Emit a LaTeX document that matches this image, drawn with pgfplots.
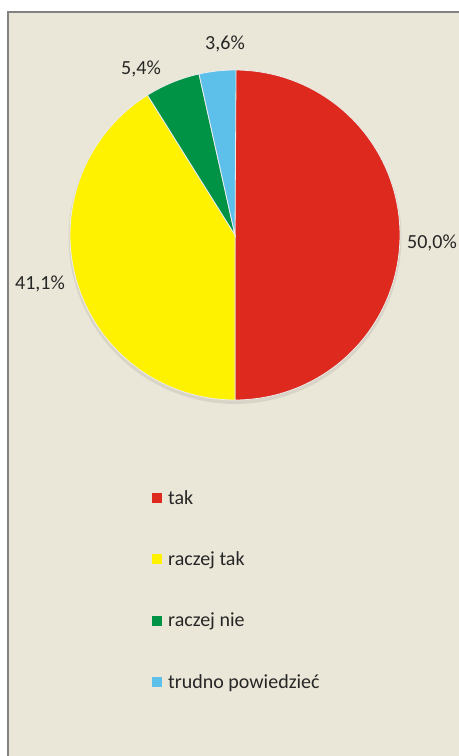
\documentclass[border=0pt]{standalone}
\usepackage{pgfplots}
\usepackage{pgfplotstable}
\pgfplotsset{compat=1.18}
\usepackage{fontspec}
\setmainfont{Carlito}

\definecolor{bgc}{RGB}{235,231,216}
\definecolor{frame}{RGB}{130,130,130}
\definecolor{cA}{RGB}{221,41,30}
\definecolor{cB}{RGB}{255,242,0}
\definecolor{cC}{RGB}{0,146,69}
\definecolor{cD}{RGB}{93,192,234}

\pgfplotstableread[col sep=comma]{
label,value
tak,50.0
raczej tak,41.1
raczej nie,5.4
trudno powiedzieć,3.6
}\piedata

\pgfplotstablegetelem{0}{value}\of\piedata \let\vA\pgfplotsretval
\pgfplotstablegetelem{1}{value}\of\piedata \let\vB\pgfplotsretval
\pgfplotstablegetelem{2}{value}\of\piedata \let\vC\pgfplotsretval
\pgfplotstablegetelem{3}{value}\of\piedata \let\vD\pgfplotsretval
\pgfplotstablegetelem{0}{label}\of\piedata \let\lA\pgfplotsretval
\pgfplotstablegetelem{1}{label}\of\piedata \let\lB\pgfplotsretval
\pgfplotstablegetelem{2}{label}\of\piedata \let\lC\pgfplotsretval
\pgfplotstablegetelem{3}{label}\of\piedata \let\lD\pgfplotsretval

\pgfmathsetmacro\aA{90}
\pgfmathsetmacro\aB{\aA-3.6*\vA}
\pgfmathsetmacro\aC{\aB-3.6*\vB}
\pgfmathsetmacro\aD{\aC-3.6*\vC}
\pgfmathsetmacro\aE{\aD-3.6*\vD}

\newcommand\pct[1]{\pgfmathprintnumber[fixed,fixed zerofill,precision=1,use comma,assume math mode=true]{#1}\%}
\def\cx{235}
\def\cy{521}
\def\R{165}

\begin{document}
\begin{tikzpicture}
\fill[white] (0,0) rectangle (459bp,756bp);
\fill[bgc] (7bp,0) rectangle (459bp,745bp);
\draw[frame,line width=1.6bp] (7.8bp,0) -- (7.8bp,744.2bp) -- (459bp,744.2bp);
\begin{axis}[
  width=459bp, height=756bp, scale only axis,
  xmin=0, xmax=459, ymin=0, ymax=756,
  hide axis, clip=false,
  legend cell align=left,
  legend style={at={(axis cs:152,268)}, anchor=north west, draw=none, fill=none,
    font=\fontsize{20bp}{24bp}\selectfont, row sep=42bp, column sep=4bp, inner sep=0pt,
    nodes={inner sep=2bp}, text=black!85},
  legend image code/.code={\fill[#1,draw=none] (0bp,-5bp) rectangle (10bp,5bp);},
]
% shadow
\addplot[forget plot, draw=none, fill=black, fill opacity=0.08, domain=0:360, samples=120, variable=\t]
  ({\cx+(\R+1.5)*cos(t)},{\cy-2.5+(\R+1.5)*sin(t)}) -- cycle;
\addplot[fill=cA, draw=white!85!gray, line width=0.8bp, domain=\aB:\aA, samples=100, variable=\t]
  ({\cx+\R*cos(t)},{\cy+\R*sin(t)}) -- (\cx,\cy) -- cycle;
\addlegendentry{\lA}
\addplot[fill=cB, draw=white!85!gray, line width=0.8bp, domain=\aC:\aB, samples=100, variable=\t]
  ({\cx+\R*cos(t)},{\cy+\R*sin(t)}) -- (\cx,\cy) -- cycle;
\addlegendentry{\lB}
\addplot[fill=cC, draw=white!85!gray, line width=0.8bp, domain=\aD:\aC, samples=20, variable=\t]
  ({\cx+\R*cos(t)},{\cy+\R*sin(t)}) -- (\cx,\cy) -- cycle;
\addlegendentry{\lC}
\addplot[fill=cD, draw=white!85!gray, line width=0.8bp, domain=\aE:\aD, samples=20, variable=\t]
  ({\cx+\R*cos(t)},{\cy+\R*sin(t)}) -- (\cx,\cy) -- cycle;
\addlegendentry{\lD}

\begin{scope}[every node/.style={font=\fontsize{20bp}{24bp}\selectfont, anchor=base, inner sep=0pt, text=black!85}]
\node at (axis cs:432,507) {\pct{\vA}};
\node at (axis cs:40,466) {\pct{\vB}};
\node at (axis cs:141,681) {\pct{\vC}};
\node at (axis cs:225,706) {\pct{\vD}};
\end{scope}
\end{axis}
\pgfresetboundingbox
\useasboundingbox (0,0) rectangle (459bp,756bp);
\end{tikzpicture}
\end{document}
